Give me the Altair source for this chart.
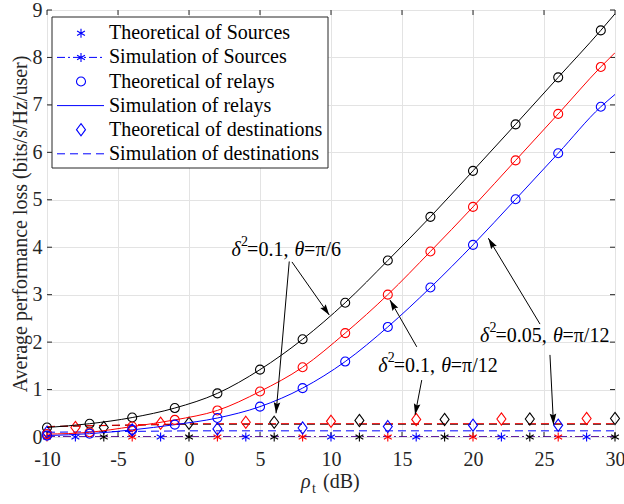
import math
import altair as alt
import pandas as pd

# ---------------- data ----------------
relay_theo_x = [-10, -7, -4, -1, 2, 5, 8, 11, 14, 17, 20, 23, 26, 29]
relay_theo_black = [0.20, 0.28, 0.41, 0.61, 0.92, 1.42, 2.06, 2.83, 3.72, 4.64, 5.61, 6.59, 7.58, 8.57]
relay_theo_red = [0.06, 0.10, 0.22, 0.36, 0.56, 0.96, 1.47, 2.19, 3.00, 3.91, 4.85, 5.83, 6.81, 7.80]
relay_theo_blue = [0.03, 0.07, 0.15, 0.26, 0.40, 0.64, 1.03, 1.59, 2.32, 3.15, 4.05, 5.01, 5.98, 6.96]

relay_sim_x = [-10, -7, -4, -1, 2, 5, 8, 11, 14, 17, 20, 23, 26, 29, 30]
relay_sim_black = [0.20, 0.28, 0.41, 0.61, 0.92, 1.42, 2.06, 2.83, 3.72, 4.64, 5.61, 6.59, 7.58, 8.57, 8.92]
relay_sim_red = [0.06, 0.10, 0.22, 0.36, 0.56, 0.96, 1.47, 2.19, 3.00, 3.91, 4.85, 5.83, 6.81, 7.80, 8.10]
relay_sim_blue = [0.03, 0.07, 0.15, 0.26, 0.40, 0.64, 1.03, 1.59, 2.32, 3.15, 4.05, 5.01, 5.98, 6.96, 7.22]

src_x_red = [-10, -4, 2, 8, 14, 20, 26]
src_x_blue = [-8, -2, 4, 10, 16, 22, 28]
src_x_black = [-6, 0, 6, 12, 18, 24, 30]
src_theo_red = [0, 0, 0, 0, 0, 0, 0]
src_theo_blue = [0, 0, 0, 0, 0, 0, 0]
src_theo_black = [0, 0, 0, 0, 0, 0, 0]
src_sim_x = [-10, 30]
src_sim_y = [0, 0]

dest_x_red = [-8, -2, 4, 10, 16, 22, 28]
dest_theo_red = [0.20, 0.29, 0.31, 0.33, 0.37, 0.38, 0.39]
dest_x_black = [-6, 0, 6, 12, 18, 24, 30]
dest_theo_black = [0.20, 0.29, 0.31, 0.35, 0.37, 0.38, 0.39]
dest_x_blue = [-10, -4, 2, 8, 14, 20, 26]
dest_theo_blue = [0.10, 0.15, 0.17, 0.19, 0.22, 0.25, 0.25]
dest_sim_x = [-10, 0, 30]
dest_sim_black = [0.22, 0.27, 0.27]
dest_sim_red = [0.22, 0.28, 0.28]
dest_sim_blue = [0.10, 0.13, 0.13]

x_ticks = [-10, -5, 0, 5, 10, 15, 20, 25, 30]
y_ticks = [0, 1, 2, 3, 4, 5, 6, 7, 8, 9]

legend_labels = ["Theoretical of Sources", "Simulation of Sources", "Theoretical of relays",
                 "Simulation of relays", "Theoretical of destinations", "Simulation of destinations"]

# annotations: (x, y) of the text start in data units, and pieces
ann_x = [3.0, 13.33, 20.49]
ann_y = [3.94, 1.50, 2.13]
ann_tail = ["=π/6", "=π/12", "=π/12"]
ann_val = ["=0.1, ", "=0.1, ", "=0.05, "]

arrow_x = [7.25, 7.06, 16.04, 16.39, 24.72, 25.42]
arrow_y = [3.69, 3.70, 1.90, 1.20, 2.38, 1.73]
arrow_x2 = [9.88, 6.13, 14.15, 15.92, 21.08, 25.67]
arrow_y2 = [2.57, 0.50, 2.89, 0.47, 4.19, 0.26]

# ---------------- layout ----------------
W, H = 568, 427
FONT = "Liberation Serif"
TXT = "#262626"
BLUE, RED, BLACK = "#0000ff", "#ff0000", "#000000"
STAR = "M0,-1L0,1M-0.87,-0.5L0.87,0.5M-0.87,0.5L0.87,-0.5"
DIAM = "M0,-1.35L1,0L0,1.35L-1,0Z"
ARROW = "M0,0L-0.3,1L0,0.85L0.3,1Z"
DASH = [8, 5]
DASHDOT = [8, 3, 2, 3]
MS = 81

xsc = alt.Scale(domain=[-10, 30], nice=False, zero=False)
ysc = alt.Scale(domain=[0, 9], nice=False, zero=False)

XAXIS = alt.Axis(
    values=x_ticks, title=None, grid=True, gridColor="#e3e3e3", gridWidth=1, domain=False,
    ticks=False, tickSize=0, labelFont=FONT, labelFontSize=20, labelColor=TXT,
    labelPadding=12, labelFlush=False, labelExpr="'' + datum.value")
YAXIS = alt.Axis(
    values=y_ticks, title="Average performance loss (bits/s/Hz/user)", grid=True,
    gridColor="#e3e3e3", gridWidth=1, domain=False, ticks=False, tickSize=0,
    labelFont=FONT, labelFontSize=20, labelColor=TXT, labelPadding=5, labelFlush=False,
    titleFont=FONT, titleFontSize=20, titleFontWeight="normal", titleColor=TXT,
    titlePadding=2)


def X(f="x"):
    return alt.X(f"{f}:Q", scale=xsc, axis=XAXIS)


def Y(f="y"):
    return alt.Y(f"{f}:Q", scale=ysc, axis=YAXIS)


def line_layer(xs, ys, color, dash=None, interp="linear", width=1.0):
    kw = dict(color=color, strokeWidth=width, interpolate=interp, clip=True)
    if dash:
        kw["strokeDash"] = dash
    return alt.Chart(pd.DataFrame({"x": xs, "y": ys})).mark_line(**kw).encode(x=X(), y=Y())


def point_layer(xs, ys, color, shape, size):
    return alt.Chart(pd.DataFrame({"x": xs, "y": ys})).mark_point(
        shape=shape, size=size, color=color, filled=False, strokeWidth=1.1, opacity=1
    ).encode(x=X(), y=Y())


# inward ticks
tx = pd.DataFrame({"t": x_ticks})
ty = pd.DataFrame({"t": y_ticks})
layers = [
    alt.Chart(tx).mark_rule(color=TXT, strokeWidth=1).encode(x=X("t"), y=alt.value(0), y2=alt.value(5)),
    alt.Chart(tx).mark_rule(color=TXT, strokeWidth=1).encode(x=X("t"), y=alt.value(H), y2=alt.value(H - 5)),
    alt.Chart(ty).mark_rule(color=TXT, strokeWidth=1).encode(y=Y("t"), x=alt.value(0), x2=alt.value(5)),
    alt.Chart(ty).mark_rule(color=TXT, strokeWidth=1).encode(y=Y("t"), x=alt.value(W), x2=alt.value(W - 5)),
]

# sources
for xs, ys, c in [(src_x_black, src_theo_black, BLACK), (src_x_red, src_theo_red, RED),
                  (src_x_blue, src_theo_blue, BLUE)]:
    layers.append(line_layer(src_sim_x, src_sim_y, c, DASHDOT))
for xs, ys, c in [(src_x_black, src_theo_black, BLACK), (src_x_red, src_theo_red, RED),
                  (src_x_blue, src_theo_blue, BLUE)]:
    layers.append(point_layer(xs, ys, c, STAR, MS))

# destinations
layers.append(line_layer(dest_sim_x, dest_sim_blue, BLUE, DASH))
layers.append(line_layer(dest_sim_x, dest_sim_black, BLACK, DASH))
layers.append(line_layer(dest_sim_x, dest_sim_red, RED, DASH))
layers.append(point_layer(dest_x_blue, dest_theo_blue, BLUE, DIAM, MS))
layers.append(point_layer(dest_x_black, dest_theo_black, BLACK, DIAM, MS))
layers.append(point_layer(dest_x_red, dest_theo_red, RED, DIAM, MS))

# relays
for ys, c in [(relay_sim_black, BLACK), (relay_sim_red, RED), (relay_sim_blue, BLUE)]:
    layers.append(line_layer(relay_sim_x, ys, c, None, "monotone"))
for ys, c in [(relay_theo_black, BLACK), (relay_theo_red, RED), (relay_theo_blue, BLUE)]:
    layers.append(point_layer(relay_theo_x, ys, c, "circle", MS))

# arrows
PX = W / 40.0
PY = H / 9.0
adf = pd.DataFrame({"x": arrow_x, "y": arrow_y, "x2": arrow_x2, "y2": arrow_y2})
adf["ang"] = [
    math.degrees(math.atan2((b - a) * PX, (d - c) * PY)) % 360
    for a, b, c, d in zip(arrow_x, arrow_x2, arrow_y, arrow_y2)
]
layers.append(alt.Chart(adf).mark_rule(color=BLACK, strokeWidth=1).encode(
    x=X("x"), y=Y("y"), x2="x2:Q", y2="y2:Q"))
layers.append(alt.Chart(adf).mark_point(shape=ARROW, size=484, filled=True, color=BLACK,
                                         opacity=1, strokeWidth=0).encode(
    x=X("x2"), y=Y("y2"), angle=alt.Angle("ang:Q", scale=None)))

# annotation text pieces
for i in range(3):
    df = pd.DataFrame({"x": [ann_x[i]], "y": [ann_y[i]]})
    wide = 10 if ann_val[i] == "=0.05, " else 0
    pieces = [("δ", 0, 0, 20, "italic"), ("2", 9.5, -8, 14, "normal"),
              (ann_val[i], 15.5, 0, 20, "normal"), ("θ", 63 + wide, 0, 20, "italic"),
              (ann_tail[i], 72.5 + wide, 0, 20, "normal")]
    for txt, dx, dy, fs, st in pieces:
        layers.append(alt.Chart(df).mark_text(
            text=txt, align="left", baseline="middle", dx=dx, dy=dy, font=FONT, fontSize=fs,
            fontStyle=st, color=BLACK).encode(x=X(), y=Y()))

# x-axis title
one = pd.DataFrame({"a": [0]})
layers.append(alt.Chart(one).mark_text(text="ρ", align="left", baseline="alphabetic", font=FONT,
                                        fontSize=20, fontStyle="italic", color=TXT).encode(
    x=alt.value(254), y=alt.value(478)))
layers.append(alt.Chart(one).mark_text(text="t", align="left", baseline="alphabetic", font=FONT,
                                        fontSize=14, color=TXT).encode(
    x=alt.value(265), y=alt.value(483)))
layers.append(alt.Chart(one).mark_text(text="(dB)", align="left", baseline="alphabetic", font=FONT,
                                        fontSize=20, color=TXT).encode(
    x=alt.value(276), y=alt.value(478)))

# legend
layers.append(alt.Chart(one).mark_rect(fill="white", stroke=TXT, strokeWidth=1).encode(
    x=alt.value(5), x2=alt.value(281), y=alt.value(7), y2=alt.value(158)))
row_y = [23.3, 47.4, 71.5, 95.6, 119.7, 143.8]
row_sym = [STAR, STAR, "circle", None, DIAM, None]
row_line = [None, DASHDOT, None, [], None, DASH]
for i, lab in enumerate(legend_labels):
    ldf = pd.DataFrame({"l": [lab]})
    if row_line[i] is not None:
        kw = dict(color=BLUE, strokeWidth=1)
        if row_line[i]:
            kw["strokeDash"] = row_line[i]
        layers.append(alt.Chart(ldf).mark_rule(**kw).encode(
            x=alt.value(10), x2=alt.value(57), y=alt.value(row_y[i])))
    if row_sym[i] is not None:
        layers.append(alt.Chart(ldf).mark_point(shape=row_sym[i], size=MS, color=BLUE, filled=False,
                                                strokeWidth=1.1, opacity=1).encode(
            x=alt.value(34), y=alt.value(row_y[i])))
    layers.append(alt.Chart(ldf).mark_text(align="left", baseline="middle", font=FONT, fontSize=20,
                                           color=BLACK).encode(
        x=alt.value(62), y=alt.value(row_y[i]), text="l:N"))

chart = alt.layer(*layers).properties(
    width=W, height=H,
    padding={"left": 47, "top": 10, "right": 9, "bottom": 67},
    autosize=alt.AutoSizeParams(type="none"),
    background="white",
).configure_view(stroke=TXT, strokeWidth=1)

chart.save("out.html", embed_options={"renderer": "svg", "actions": False})
